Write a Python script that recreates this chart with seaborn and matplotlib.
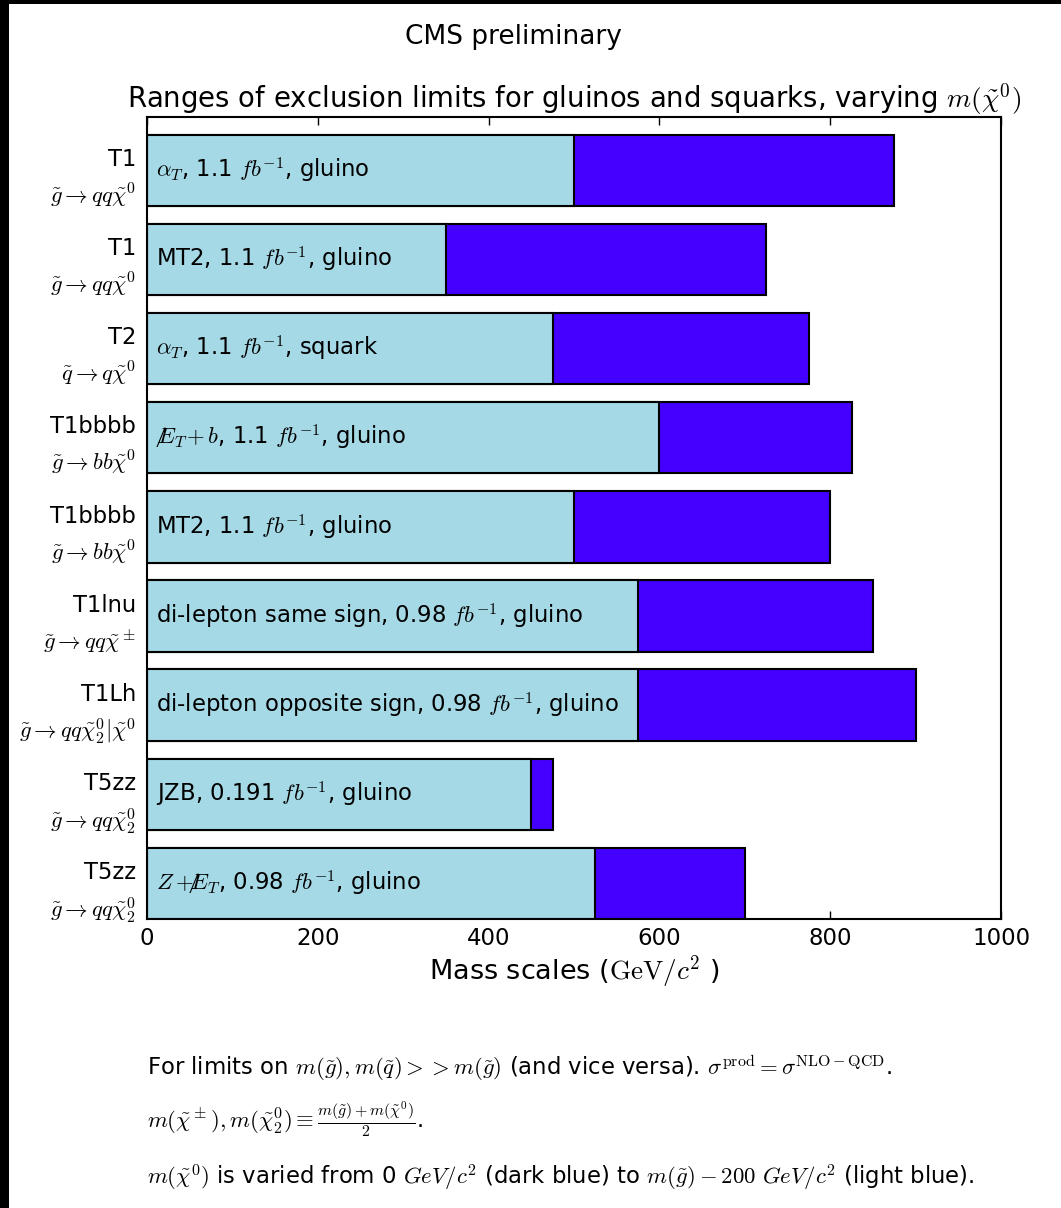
import matplotlib
matplotlib.use("Agg")
import matplotlib.pyplot as plt
import seaborn as sns
import pandas as pd
from matplotlib.patches import Rectangle

# Simplified-model labels (top to bottom)
models = ["T1", "T1", "T2", "T1bbbb", "T1bbbb", "T1lnu", "T1Lh", "T5zz", "T5zz"]
decays = [r"$\tilde{g}\rightarrow qq\tilde{\chi}^0$",
          r"$\tilde{g}\rightarrow qq\tilde{\chi}^0$",
          r"$\tilde{q}\rightarrow q\tilde{\chi}^0$",
          r"$\tilde{g}\rightarrow bb\tilde{\chi}^0$",
          r"$\tilde{g}\rightarrow bb\tilde{\chi}^0$",
          r"$\tilde{g}\rightarrow qq\tilde{\chi}^\pm$",
          r"$\tilde{g}\rightarrow qq\tilde{\chi}^0_2|\tilde{\chi}^0$",
          r"$\tilde{g}\rightarrow qq\tilde{\chi}^0_2$",
          r"$\tilde{g}\rightarrow qq\tilde{\chi}^0_2$"]
analyses = [r"$\alpha_T$, 1.1 $fb^{-1}$, gluino",
            r"MT2, 1.1 $fb^{-1}$, gluino",
            r"$\alpha_T$, 1.1 $fb^{-1}$, squark",
            r"$\not\!\!E_T\!+b$, 1.1 $fb^{-1}$, gluino",
            r"MT2, 1.1 $fb^{-1}$, gluino",
            r"di-lepton same sign, 0.98 $fb^{-1}$, gluino",
            r"di-lepton opposite sign, 0.98 $fb^{-1}$, gluino",
            r"JZB, 0.191 $fb^{-1}$, gluino",
            r"$Z+\not\!\!E_T$, 0.98 $fb^{-1}$, gluino"]
# Exclusion limits (GeV/c^2): m(chi0)=0 and m(chi0)=m(g)-200
limit_light_lsp = [875, 725, 775, 825, 800, 850, 900, 475, 700]
limit_heavy_lsp = [500, 350, 475, 600, 500, 575, 575, 450, 525]

dark_blue = "#4400ff"
light_blue = "#a6d9e6"

sns.set_theme(style="white")
plt.rcParams["font.family"] = ["DejaVu Sans"]
plt.rcParams["mathtext.fontset"] = "cm"
plt.rcParams["axes.linewidth"] = 1.5
plt.rcParams["axes.edgecolor"] = "black"
plt.rcParams["text.color"] = "black"
plt.rcParams["axes.labelcolor"] = "black"
plt.rcParams["axes.titlecolor"] = "black"
plt.rcParams["xtick.color"] = "black"
plt.rcParams["ytick.color"] = "black"
plt.rcParams["xtick.direction"] = "in"
plt.rcParams["ytick.direction"] = "in"

df = pd.DataFrame({
    "row": [str(i) for i in range(len(models))],
    "dark": limit_light_lsp,
    "light": limit_heavy_lsp,
})

fig = plt.figure(figsize=(10.61, 12.08), dpi=100, facecolor="black")
fig.patches.append(Rectangle((9 / 1061, 0), 1, 1 - 4 / 1208, transform=fig.transFigure,
                             facecolor="white", edgecolor="none", zorder=-10))
ax = fig.add_axes([147 / 1061, 1 - 919 / 1208, 854 / 1061, 802 / 1208])

sns.barplot(data=df, x="dark", y="row", orient="h", color=dark_blue, saturation=1,
            edgecolor="black", linewidth=1.5, width=0.8, ax=ax)
sns.barplot(data=df, x="light", y="row", orient="h", color=light_blue, saturation=1,
            edgecolor="black", linewidth=1.5, width=0.8, ax=ax)

for i, txt in enumerate(analyses):
    ax.text(10, i, txt, va="center", ha="left", fontsize=16.4)

ax.set_xlim(0, 1000)
ax.set_ylim(len(models) - 0.6, -0.6)
ax.set_xticks([0, 200, 400, 600, 800, 1000])
ax.tick_params(axis="x", labelsize=16.5, length=6, width=1, top=True, bottom=True, pad=6)
ax.set_yticks(range(len(models)))
ax.set_yticklabels([f"{m}\n{d}" for m, d in zip(models, decays)], fontsize=16.3,
                   multialignment="right", linespacing=1.5)
ax.tick_params(axis="y", length=0, pad=8)
for s in ax.spines.values():
    s.set_visible(True)
    s.set_color("black")
    s.set_linewidth(1.5)

ax.set_xlabel(r"Mass scales ($\mathrm{GeV}/c^2$ )", fontsize=19.5, labelpad=2)
ax.set_ylabel("")
ax.set_title(r"Ranges of exclusion limits for gluinos and squarks, varying $m(\tilde{\chi}^0)$",
             fontsize=19.8, pad=7)

fig.text(513 / 1061, 1 - 37 / 1208, "CMS preliminary", ha="center", va="center", fontsize=19)

notes = [
    r"For limits on $m(\tilde{g}),m(\tilde{q})>>m(\tilde{g})$ (and vice versa). "
    r"$\sigma^{\rm prod}=\sigma^{\rm NLO-QCD}$.",
    r"$m(\tilde{\chi}^\pm),m(\tilde{\chi}^0_2)\equiv\frac{m(\tilde{g})+m(\tilde{\chi}^0)}{2}$.",
    r"$m(\tilde{\chi}^0)$ is varied from 0 $GeV/c^2$ (dark blue) to "
    r"$m(\tilde{g})-200$ $GeV/c^2$ (light blue).",
]
for y, t in zip([1068, 1120, 1178], notes):
    fig.text(147 / 1061, 1 - y / 1208, t, ha="left", va="center", fontsize=16.4)

fig.savefig("out.png", dpi=100, facecolor=fig.get_facecolor())
